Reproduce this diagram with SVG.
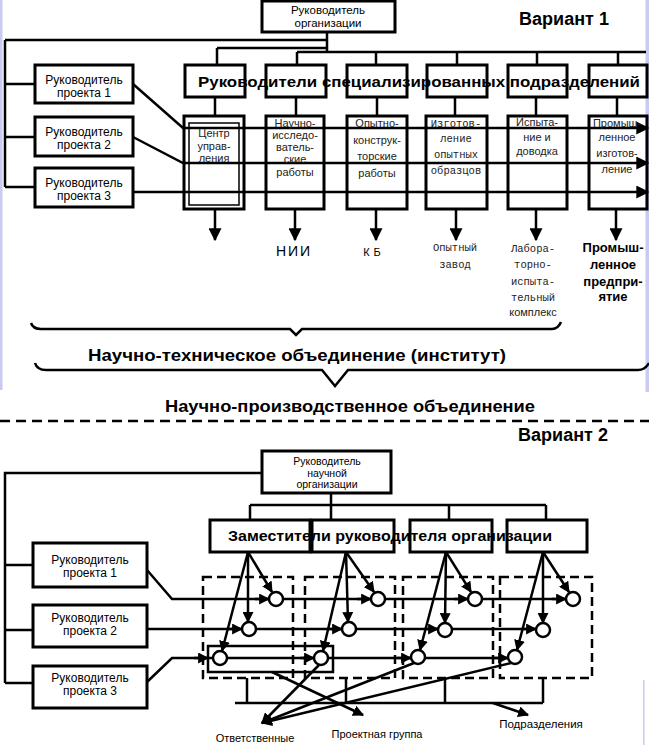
<svg xmlns="http://www.w3.org/2000/svg" width="649" height="745" viewBox="0 0 649 745">
<defs>
<marker id="ah" viewBox="0 0 10 10" refX="9" refY="5" markerWidth="11" markerHeight="11" markerUnits="userSpaceOnUse" orient="auto"><path d="M0,0 L10,5 L0,10 z" fill="#000"/></marker>
<marker id="ahL" viewBox="0 0 10 10" refX="9" refY="5" markerWidth="13" markerHeight="13" markerUnits="userSpaceOnUse" orient="auto"><path d="M0,0 L10,5 L0,10 z" fill="#000"/></marker>
</defs>
<style>
.box{fill:#fff;stroke:#000;stroke-width:3}
.thin{fill:none;stroke:#000;stroke-width:1.5}
.ln{fill:none;stroke:#000;stroke-width:2.5}
.dash{fill:none;stroke:#000;stroke-width:2.5;stroke-dasharray:9 5}
.circ{fill:#fff;stroke:#000;stroke-width:2.5}
.t{font-family:"Liberation Sans",Arial,sans-serif;fill:#000;text-anchor:middle}
.s11{font-size:11.5px}
.s10{font-size:10.5px}
.s12{font-size:12px}
.c{font-family:"Liberation Sans",Arial,sans-serif;font-size:11px;fill:#222;text-anchor:middle}
.m{font-family:"Liberation Mono","Courier New",monospace;font-size:10.5px;fill:#222;text-anchor:middle}
.b{font-family:"Liberation Sans",Arial,sans-serif;font-weight:bold;fill:#000;text-anchor:middle}
</style>
<rect x="0" y="0" width="649" height="745" fill="#fff"/>
<rect x="0" y="0" width="2.5" height="390" fill="#c9c9f2"/>
<rect x="645.5" y="0" width="3.5" height="392" fill="#c9c9f2"/>
<rect x="643" y="680" width="1.5" height="65" fill="#c9c9f2"/>

<!-- ============ VARIANT 1 ============ -->
<g id="connectors-v1">
<path class="ln" d="M5,40 H327 M327,32 V52 M217,48 H327 M297,52 H646"/>
<path class="ln" d="M217,48 V65 M297,52 V65 M376,52 V65 M457,52 V65 M537,52 V65 M618,52 V65"/>
<path class="ln" d="M215,97 V116 M296,97 V116 M377,97 V116 M455,97 V116 M536,97 V116 M617,97 V116"/>
<path class="ln" d="M5,40 V187 M5,84 H35 M5,137 H35 M5,187 H35"/>
<path class="ln" marker-end="url(#ahL)" d="M133,84 L183,128 H648"/>
<path class="ln" marker-end="url(#ahL)" d="M133,137 L183,163 H648"/>
<path class="ln" marker-end="url(#ahL)" d="M133,192 H648"/>
<path class="ln" marker-end="url(#ahL)" d="M215,209 V240"/>
<path class="ln" marker-end="url(#ahL)" d="M295,209 V240"/>
<path class="ln" marker-end="url(#ahL)" d="M376,209 V240"/>
<path class="ln" marker-end="url(#ahL)" d="M456,209 V240"/>
<path class="ln" marker-end="url(#ahL)" d="M536,209 V240"/>
<path class="ln" marker-end="url(#ahL)" d="M616,209 V240"/>
</g>

<g id="v1-head">
<rect class="box" x="262" y="1" width="133" height="31"/>
<text class="t s11" x="328" y="14">Руководитель</text>
<text class="t s11" x="328" y="27">организации</text>
</g>
<text id="v1-title" class="b" x="564" y="25" font-size="18">Вариант 1</text>

<g id="v1-spec">
<rect class="box" x="185" y="65" width="60" height="32"/>
<rect class="box" x="266" y="65" width="60" height="32"/>
<rect class="box" x="347" y="65" width="60" height="32"/>
<rect class="box" x="427" y="65" width="60" height="32"/>
<rect class="box" x="508" y="65" width="59" height="32"/>
<rect class="box" x="589" y="65" width="58" height="32"/>
<text class="b" x="419" y="87" font-size="15" textLength="442" lengthAdjust="spacingAndGlyphs">Руководители специализированных подразделений</text>
</g>

<g id="v1-pm1">
<rect class="box" x="35" y="65" width="98" height="38"/>
<text class="t s12" x="84" y="84">Руководитель</text>
<text class="t s12" x="84" y="97">проекта 1</text>
</g>
<g id="v1-pm2">
<rect class="box" x="35" y="117" width="98" height="39"/>
<text class="t s12" x="84" y="136">Руководитель</text>
<text class="t s12" x="84" y="149">проекта 2</text>
</g>
<g id="v1-pm3">
<rect class="box" x="35" y="168" width="98" height="39"/>
<text class="t s12" x="84" y="187">Руководитель</text>
<text class="t s12" x="84" y="200">проекта 3</text>
</g>

<g id="v1-col1">
<rect class="box" x="184" y="116" width="60" height="93" fill-opacity="0"/>
<rect class="thin" x="189" y="123" width="50" height="82"/>
<text class="c" x="214" y="137">Центр</text>
<text class="c" x="214" y="150">управ-</text>
<text class="c" x="214" y="162">ления</text>
</g>
<g id="v1-col2">
<rect class="box" x="266" y="116" width="58" height="93" fill-opacity="0"/>
<text class="c" x="295" y="127">Научно-</text>
<text class="c" x="295" y="139">исследо-</text>
<text class="c" x="295" y="151">ватель-</text>
<text class="c" x="295" y="163">ские</text>
<text class="c" x="295" y="176">работы</text>
</g>
<g id="v1-col3">
<rect class="box" x="347" y="116" width="60" height="93" fill-opacity="0"/>
<text class="c" x="377" y="127">Опытно-</text>
<text class="c" x="377" y="144">конструк-</text>
<text class="c" x="377" y="160">торские</text>
<text class="c" x="377" y="177">работы</text>
</g>
<g id="v1-col4">
<rect class="box" x="426" y="116" width="61" height="93" fill-opacity="0"/>
<text class="m" x="456" y="127">Изготов-</text>
<text class="m" x="456" y="142">ление</text>
<text class="m" x="456" y="158">опытных</text>
<text class="m" x="456" y="174">образцов</text>
</g>
<g id="v1-col5">
<rect class="box" x="508" y="116" width="59" height="93" fill-opacity="0"/>
<text class="c" x="537" y="126">Испыта-</text>
<text class="c" x="537" y="141">ние и</text>
<text class="c" x="537" y="155">доводка</text>
</g>
<g id="v1-col6">
<rect class="box" x="589" y="116" width="58" height="93" fill-opacity="0"/>
<text class="c" x="617" y="127">Промыш-</text>
<text class="c" x="617" y="141">ленное</text>
<text class="c" x="617" y="157">изготов-</text>
<text class="c" x="617" y="173">ление</text>
</g>

<g id="v1-labels">
<text class="t" x="294" y="256" font-size="14" letter-spacing="2">НИИ</text>
<text class="t" x="374" y="256" font-size="11" letter-spacing="4" fill="#333">КБ</text>
<text class="m" x="455" y="251">Опытный</text>
<text class="m" x="455" y="268">завод</text>
<text class="m" x="533" y="252">Лабора-</text>
<text class="m" x="533" y="268">торно-</text>
<text class="m" x="533" y="285">испыта-</text>
<text class="m" x="533" y="301">тельный</text>
<text class="c" x="533" y="316" font-size="9.5">комплекс</text>
<text class="b" x="613" y="252" font-size="13">Промыш-</text>
<text class="b" x="613" y="269" font-size="13">ленное</text>
<text class="b" x="613" y="286" font-size="13">предпри-</text>
<text class="b" x="613" y="301" font-size="13">ятие</text>
</g>

<g id="v1-braces">
<path class="ln" stroke-width="3" d="M31,323 Q33,329 41,329 H290 L296,335 L302,329 H552 Q558,329 561,322"/>
<text class="b" x="297" y="361" font-size="16" textLength="418" lengthAdjust="spacingAndGlyphs">Научно-техническое объединение (институт)</text>
<path class="ln" stroke-width="3" d="M35,363 Q37,370 46,370 H322 L335,386 L348,370 H638 Q645,370 649,363"/>
<text class="b" x="350" y="412" font-size="16" textLength="370" lengthAdjust="spacingAndGlyphs">Научно-производственное объединение</text>
</g>

<path id="separator" d="M0,421 H649" fill="none" stroke="#000" stroke-width="2.5" stroke-dasharray="10 6"/>

<!-- ============ VARIANT 2 ============ -->
<g id="connectors-v2">
<path class="ln" d="M262,473 H5 V683 M5,565 H33 M5,630 H33 M5,683 H33"/>
<path class="ln" d="M331,493 V520 M250,505 H546 M250,505 V520 M449,505 V520 M546,505 V520"/>
<path class="ln" d="M147,570 L172,599 H573"/>
<path class="ln" d="M147,629 H543"/>
<path class="ln" d="M147,682 L172,658 H515"/>
<path class="ln" marker-end="url(#ah)" d="M255,599 H269"/>
<path class="ln" marker-end="url(#ah)" d="M357,599 H371"/>
<path class="ln" marker-end="url(#ah)" d="M454,599 H468"/>
<path class="ln" marker-end="url(#ah)" d="M552,599 H566"/>
<path class="ln" marker-end="url(#ah)" d="M228,629 H242"/>
<path class="ln" marker-end="url(#ah)" d="M328,629 H342"/>
<path class="ln" marker-end="url(#ah)" d="M424,629 H438"/>
<path class="ln" marker-end="url(#ah)" d="M522,629 H536"/>
<path class="ln" marker-end="url(#ah)" d="M194,658 H208"/>
<path class="ln" marker-end="url(#ah)" d="M300,658 H314"/>
<path class="ln" marker-end="url(#ah)" d="M397,658 H411"/>
<path class="ln" marker-end="url(#ah)" d="M494,658 H508"/>
<path class="ln" marker-end="url(#ah)" d="M248,552 L272,592"/>
<path class="ln" marker-end="url(#ah)" d="M248,552 V622"/>
<path class="ln" marker-end="url(#ah)" d="M248,552 L222,651"/>
<path class="ln" marker-end="url(#ah)" d="M346,552 L374,592"/>
<path class="ln" marker-end="url(#ah)" d="M346,552 L348,622"/>
<path class="ln" marker-end="url(#ah)" d="M346,552 L323,651"/>
<path class="ln" marker-end="url(#ah)" d="M446,552 L471,592"/>
<path class="ln" marker-end="url(#ah)" d="M446,552 L445,623"/>
<path class="ln" marker-end="url(#ah)" d="M446,552 L420,650"/>
<path class="ln" marker-end="url(#ah)" d="M543,552 L569,592"/>
<path class="ln" marker-end="url(#ah)" d="M543,552 V623"/>
<path class="ln" marker-end="url(#ah)" d="M543,552 L517,650"/>
<path class="ln" d="M247,678 V703 M346,678 V703 M445,678 V703 M543,678 V703 M235,703 H543"/>
<path class="ln" marker-end="url(#ah)" d="M493,703 L528,715"/>
<path class="ln" marker-end="url(#ah)" d="M272,672 L363,715"/>
<path class="ln" marker-end="url(#ah)" d="M319,665 L262,723"/>
<path class="ln" marker-end="url(#ah)" d="M414,663 L262,723"/>
<path class="ln" marker-end="url(#ah)" d="M511,663 L262,723"/>
</g>

<text id="v2-title" class="b" x="563" y="441" font-size="18">Вариант 2</text>

<g id="v2-head">
<rect class="box" x="262" y="451" width="129" height="42"/>
<text class="t s10" x="327" y="465">Руководитель</text>
<text class="t s10" x="327" y="476.5">научной</text>
<text class="t s10" x="327" y="488">организации</text>
</g>

<g id="v2-deputies">
<rect class="box" x="210" y="520" width="100" height="32"/>
<rect class="box" x="312" y="520" width="82" height="32"/>
<rect class="box" x="410" y="520" width="82" height="32"/>
<rect class="box" x="507" y="520" width="80" height="32"/>
<text class="b" x="390" y="541" font-size="15" textLength="324" lengthAdjust="spacingAndGlyphs">Заместители руководителя организации</text>
</g>

<g id="v2-pm1">
<rect class="box" x="33" y="543" width="114" height="44"/>
<text class="t s12" x="90" y="564">Руководитель</text>
<text class="t s12" x="90" y="577">проекта 1</text>
</g>
<g id="v2-pm2">
<rect class="box" x="33" y="605" width="114" height="42"/>
<text class="t s12" x="90" y="622">Руководитель</text>
<text class="t s12" x="90" y="635">проекта 2</text>
</g>
<g id="v2-pm3">
<rect class="box" x="33" y="666" width="114" height="42"/>
<text class="t s12" x="90" y="682">Руководитель</text>
<text class="t s12" x="90" y="695">проекта 3</text>
</g>

<g id="v2-units">
<rect class="dash" x="203" y="577" width="90" height="101"/>
<rect class="dash" x="305" y="577" width="90" height="101"/>
<rect class="dash" x="403" y="577" width="90" height="101"/>
<rect class="dash" x="500" y="577" width="92" height="101"/>
</g>
<rect id="v2-project-group" class="ln" x="208" y="646" width="125" height="26"/>

<g id="v2-nodes">
<circle class="circ" cx="276" cy="599" r="7"/>
<circle class="circ" cx="249" cy="629" r="7"/>
<circle class="circ" cx="220" cy="658" r="7"/>
<circle class="circ" cx="378" cy="599" r="7"/>
<circle class="circ" cx="349" cy="629" r="7"/>
<circle class="circ" cx="321" cy="658" r="7"/>
<circle class="circ" cx="475" cy="599" r="7"/>
<circle class="circ" cx="445" cy="630" r="7"/>
<circle class="circ" cx="418" cy="657" r="7"/>
<circle class="circ" cx="573" cy="599" r="7"/>
<circle class="circ" cx="543" cy="630" r="7"/>
<circle class="circ" cx="515" cy="657" r="7"/>
</g>

<g id="v2-labels">
<text class="t" x="255" y="742" font-size="11">Ответственные</text>
<text class="t" x="377" y="738" font-size="11">Проектная группа</text>
<text class="t" x="541" y="728" font-size="11.5">Подразделения</text>
</g>
</svg>
